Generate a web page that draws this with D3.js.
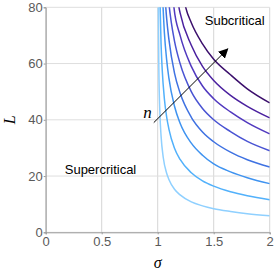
<!DOCTYPE html>
<html>
<head>
<meta charset="utf-8">
<script src="https://cdn.jsdelivr.net/npm/d3@7"></script>
<style>
body { margin: 0; background: #fff; }
</style>
</head>
<body>
<script>
//Width and height
var width = 274;
var height = 276;

//Tick values
var xTicks = [0, 0.5, 1, 1.5, 2];
var yTicks = [0, 20, 40, 60, 80];
var xTickLabels = ["0", "0.5", "1", "1.5", "2"];
var yTickLabels = ["0", "20", "40", "60", "80"];

//Curves, [sigma, L], light (n=1) to dark (n=8)
var curveN1 = [[1.005, 84], [1.01, 59], [1.02, 42], [1.03, 34.3], [1.05, 26.5], [1.08, 21], [1.1, 18.8], [1.15, 15.3], [1.2, 13.3], [1.3, 10.8], [1.4, 9.4], [1.5, 8.4], [1.65, 7.4], [1.8, 6.6], [2, 5.9]];
var curveN2 = [[1.018, 86], [1.03, 67], [1.04, 58], [1.06, 47.3], [1.08, 41], [1.1, 36.7], [1.15, 29.9], [1.2, 25.9], [1.3, 21.2], [1.4, 18.3], [1.5, 16.4], [1.65, 14.4], [1.8, 13], [2, 11.6]];
var curveN3 = [[1.04, 87], [1.06, 70.8], [1.08, 61.3], [1.1, 54.8], [1.15, 44.8], [1.2, 38.8], [1.3, 31.7], [1.4, 27.4], [1.5, 24.3], [1.65, 21.5], [1.8, 19.4], [2, 17.3]];
var curveN4 = [[1.06, 87], [1.08, 76], [1.1, 68.6], [1.15, 56.6], [1.2, 49.5], [1.3, 40.9], [1.4, 35.7], [1.5, 32.2], [1.65, 28.5], [1.8, 25.8], [2, 23.2]];
var curveN5 = [[1.09, 86], [1.104, 80], [1.12, 75], [1.15, 68], [1.2, 60], [1.3, 50], [1.4, 44], [1.5, 40], [1.65, 35.8], [1.8, 32.3], [2, 29]];
var curveN6 = [[1.13, 88], [1.145, 80], [1.2, 70], [1.3, 59], [1.4, 52], [1.5, 47.5], [1.65, 42.8], [1.8, 39], [2, 35]];
var curveN7 = [[1.17, 87], [1.19, 80], [1.2, 78], [1.3, 66.5], [1.4, 59], [1.5, 54], [1.65, 48.7], [1.8, 44.8], [2, 40.7]];
var curveN8 = [[1.22, 86], [1.25, 80], [1.3, 74.5], [1.4, 67], [1.5, 61.5], [1.65, 56], [1.8, 51], [2, 46]];

var curves = [curveN1, curveN2, curveN3, curveN4, curveN5, curveN6, curveN7, curveN8];
var lineColors = ["#8fd0ff", "#52b1fb", "#3f93f0", "#3f72e2", "#4a54d3", "#5139bf", "#4b219f", "#3b0f6c"];

//Create SVG element
var svg = d3.select("body")
			.append("svg")
			.attr("width", width)
			.attr("height", height);

var x = d3.scaleLinear()
	.domain([0, 2])
	.range([45.7, 269.7]);

var y = d3.scaleLinear()
	.domain([0, 80])
	.range([232.3, 7.3]);

//Grid
svg.selectAll("line.vgrid")
	.data(xTicks)
	.enter()
	.append("line")
	.attr("x1", function(d) { return x(d); })
	.attr("x2", function(d) { return x(d); })
	.attr("y1", y(0))
	.attr("y2", y(80))
	.style("stroke", "#d6d6d6")
	.style("stroke-width", 1);

svg.selectAll("line.hgrid")
	.data(yTicks)
	.enter()
	.append("line")
	.attr("x1", x(0))
	.attr("x2", x(2))
	.attr("y1", function(d) { return y(d); })
	.attr("y2", function(d) { return y(d); })
	.style("stroke", "#dedede")
	.style("stroke-width", 1);

//Axes
var xAxis = d3.axisBottom(x)
	.tickValues(xTicks)
	.tickFormat(function(d, i) { return xTickLabels[i]; })
	.tickSize(2)
	.tickPadding(2);

var yAxis = d3.axisLeft(y)
	.tickValues(yTicks)
	.tickFormat(function(d, i) { return yTickLabels[i]; })
	.tickSize(2)
	.tickPadding(1);

var gx = svg.append("g")
	.attr("transform", "translate(0," + y(0) + ")")
	.call(xAxis);

var gy = svg.append("g")
	.attr("transform", "translate(" + x(0) + ",0)")
	.call(yAxis);

[gx, gy].forEach(function(g) {
	g.select(".domain").style("stroke", "#9a9a9a");
	g.selectAll(".tick line").style("stroke", "#9a9a9a");
	g.selectAll(".tick text")
		.style("fill", "#5a5a5a")
		.style("font-family", "'Liberation Sans', Arial, sans-serif")
		.style("font-size", "13px");
});

//Clip to plot area
svg.append("clipPath")
	.attr("id", "plotclip")
	.append("rect")
	.attr("x", x(0))
	.attr("y", y(80))
	.attr("width", x(2) - x(0))
	.attr("height", y(0) - y(80));

var line = d3.line()
	.x(function(d) { return x(d[0]); })
	.y(function(d) { return y(d[1]); })
	.curve(d3.curveMonotoneX);

svg.append("g")
	.attr("clip-path", "url(#plotclip)")
	.selectAll("path")
	.data(curves)
	.enter()
	.append("path")
	.attr("d", line)
	.style("fill", "none")
	.style("stroke", function(d, i) { return lineColors[i]; })
	.style("stroke-width", 1.5);

//Arrow
svg.append("defs")
	.append("marker")
	.attr("id", "head")
	.attr("viewBox", "0 0 10 10")
	.attr("refX", 9)
	.attr("refY", 5)
	.attr("markerWidth", 10)
	.attr("markerHeight", 10)
	.attr("markerUnits", "userSpaceOnUse")
	.attr("orient", "auto")
	.append("path")
	.attr("d", "M0,0L10,5L0,10z")
	.style("fill", "#000");

svg.append("line")
	.attr("x1", x(0.965))
	.attr("y1", y(39))
	.attr("x2", x(1.625))
	.attr("y2", y(65.2))
	.style("stroke", "#000")
	.style("stroke-width", 1)
	.attr("marker-end", "url(#head)");

//Labels
svg.append("text")
	.attr("x", x(1.42))
	.attr("y", y(73.8))
	.text("Subcritical")
	.style("font-family", "'Liberation Sans', Arial, sans-serif")
	.style("font-size", "13px")
	.style("fill", "#000");

svg.append("text")
	.attr("x", x(0.17))
	.attr("y", y(20.6))
	.text("Supercritical")
	.style("font-family", "'Liberation Sans', Arial, sans-serif")
	.style("font-size", "13px")
	.style("fill", "#000");

svg.append("text")
	.attr("x", x(0.87))
	.attr("y", y(40.5))
	.text("n")
	.style("font-family", "'Liberation Serif', 'Times New Roman', serif")
	.style("font-style", "italic")
	.style("font-size", "17px")
	.style("fill", "#000");

svg.append("text")
	.attr("x", x(1))
	.attr("y", 268)
	.attr("text-anchor", "middle")
	.text("σ")
	.style("font-family", "'Liberation Serif', 'Times New Roman', serif")
	.style("font-style", "italic")
	.style("font-size", "16px")
	.style("fill", "#000");

svg.append("text")
	.attr("transform", "translate(15," + y(40) + ") rotate(-90)")
	.attr("text-anchor", "middle")
	.text("L")
	.style("font-family", "'Liberation Serif', 'Times New Roman', serif")
	.style("font-style", "italic")
	.style("font-size", "16px")
	.style("fill", "#000");
</script>
</body>
</html>
